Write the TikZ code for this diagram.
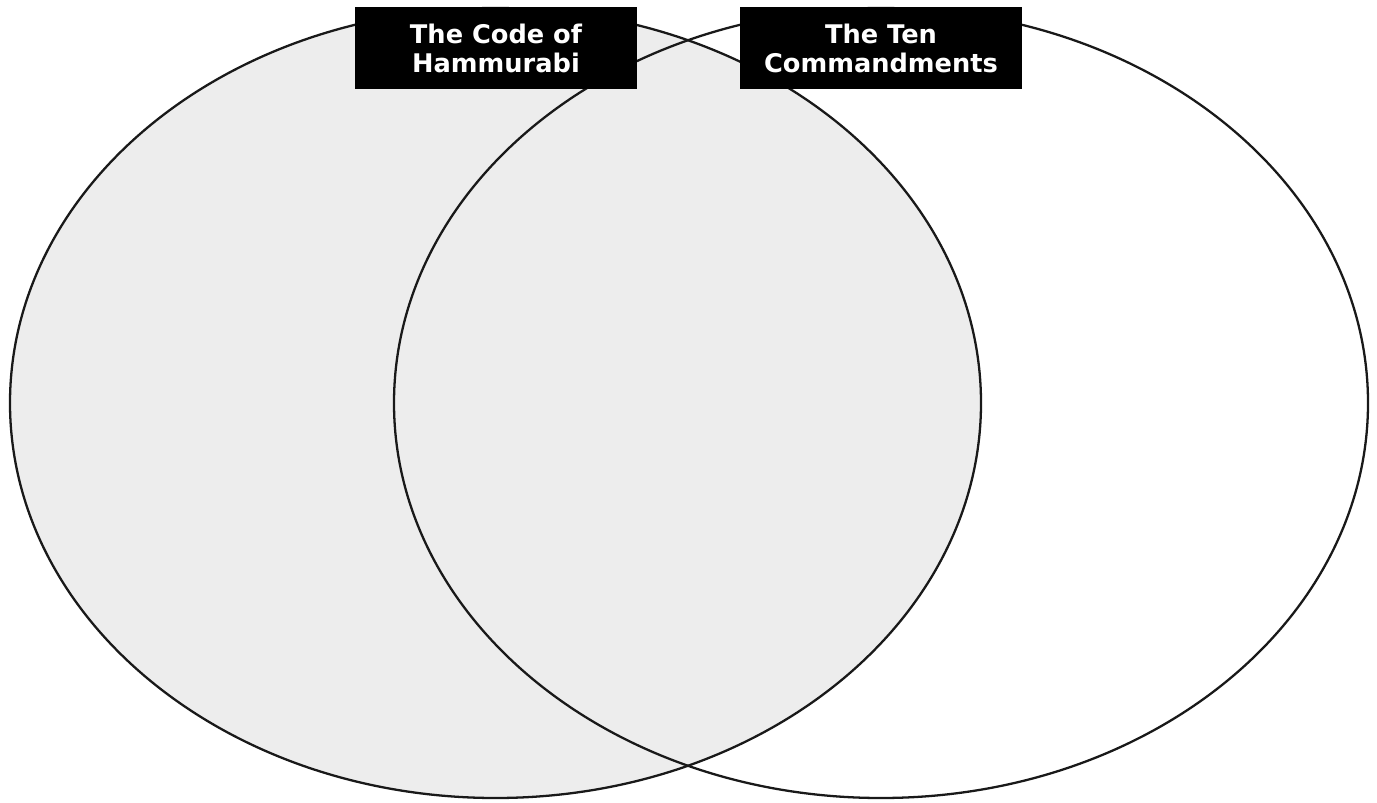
\documentclass[tikz,border=0pt]{standalone}
\usepackage{fontspec}
\setsansfont{DejaVu Sans}
\usetikzlibrary{positioning}

\begin{document}
\begin{tikzpicture}[
  font=\sffamily\bfseries\fontsize{14.6}{16.5}\selectfont,
  circ/.style={draw=black!90, line width=1.3pt},
  title/.style={fill=black, text=white, align=center, inner sep=0pt, minimum width=56.4mm, minimum height=16.4mm}
]
\useasboundingbox (0,0) rectangle (27.54,16.04);

\fill[black!7] (9.91,7.98) ellipse [x radius=9.71, y radius=7.90];
\draw[circ] (9.91,7.98) ellipse [x radius=9.71, y radius=7.90];
\draw[circ] (17.62,7.98) ellipse [x radius=9.74, y radius=7.90];

\node[title] (hammurabi) at (9.92,15.08) {The Code of\\Hammurabi};
\node[title] (commandments) at (17.62,15.08) {The Ten\\Commandments};

\end{tikzpicture}
\end{document}
